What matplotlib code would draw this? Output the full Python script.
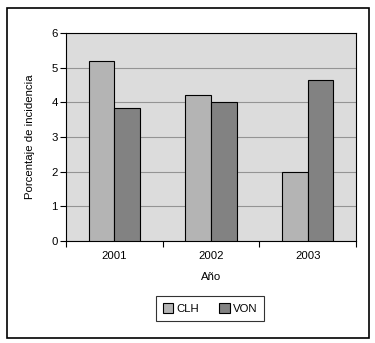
import matplotlib.pyplot as plt
import numpy as np
from matplotlib.patches import Rectangle

plt.rcParams['font.family'] = ['Liberation Sans', 'DejaVu Sans']

years = ["2001", "2002", "2003"]
clh = [5.2, 4.2, 2.0]
von = [3.85, 4.0, 4.65]
series_names = ["CLH", "VON"]

W, H = 375, 343
FS = 8.2
fig = plt.figure(figsize=(W / 100, H / 100), dpi=100)
fig.patch.set_facecolor("white")

# outer frame
fig.add_artist(Rectangle((7 / W, 1 - 338 / H), (369 - 7) / W, (338 - 8) / H,
                         transform=fig.transFigure, fill=False,
                         edgecolor="black", linewidth=1.2))

ax = fig.add_axes([66 / W, 1 - 241 / H, (356 - 66) / W, (241 - 33) / H])
ax.set_facecolor("#dcdcdc")

x = np.arange(len(years))
bw = 0.264
ax.bar(x - bw / 2, clh, bw, color="#b4b4b4", edgecolor="black", linewidth=0.8,
       label=series_names[0], zorder=3)
ax.bar(x + bw / 2, von, bw, color="#828282", edgecolor="black", linewidth=0.8,
       label=series_names[1], zorder=3)

ax.set_xlim(-0.5, 2.5)
ax.set_ylim(0, 6)
ax.set_yticks(range(7))
ax.yaxis.grid(True, color="#949494", linewidth=0.8, zorder=1)
ax.set_axisbelow(True)

ax.set_xticks(x)
ax.set_xticklabels(years)
ax.set_xticks([-0.5, 0.5, 1.5, 2.5], minor=True)
ax.tick_params(axis="x", which="major", length=0, pad=7, labelsize=FS)
ax.tick_params(axis="x", which="minor", length=4, direction="out", width=0.8)
ax.tick_params(axis="y", length=4, direction="out", width=0.8, labelsize=FS, pad=2)

for s in ax.spines.values():
    s.set_linewidth(0.8)
    s.set_color("black")

ax.set_xlabel("Año", fontsize=FS, labelpad=8)
ax.set_ylabel("Porcentaje de incidencia", fontsize=FS, labelpad=12)

leg = fig.legend(loc="center", bbox_to_anchor=(210 / W, 1 - 308.5 / H), ncol=2,
                 fontsize=FS, frameon=True, fancybox=False, edgecolor="black",
                 handlelength=0.9, handleheight=0.9, columnspacing=1.8,
                 handletextpad=0.3, borderpad=0.6)
leg.get_frame().set_linewidth(0.8)

fig.savefig("out.png", dpi=100, facecolor="white")
